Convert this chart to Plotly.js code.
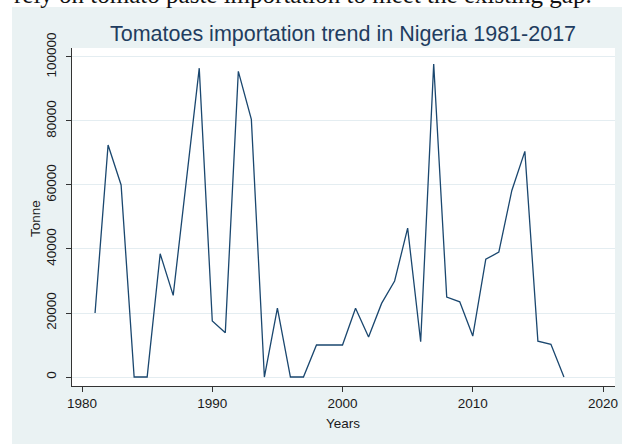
<!DOCTYPE html>
<html>
<head>
<meta charset="utf-8">
<script src="https://cdn.plot.ly/plotly-3.0.1.min.js"></script>
<style>html,body{margin:0;padding:0;background:#fff;}#chart{width:622px;height:444px;}</style>
</head>
<body>
<div id="chart"></div>
<script>
const years = [1981,1982,1983,1984,1985,1986,1987,1988,1989,1990,1991,1992,1993,1994,1995,1996,1997,1998,1999,2000,2001,2002,2003,2004,2005,2006,2007,2008,2009,2010,2011,2012,2013,2014,2015,2016,2017];
const tonnes = [20000,72500,60000,0,0,38500,25500,61000,96500,17500,13800,95500,80500,0,21500,0,0,10000,10000,10000,21500,12500,23000,30000,46500,11000,97800,25000,23500,12800,36800,39000,58300,70500,11200,10200,0];
const yTicks = [0,20000,40000,60000,80000,100000];
const yTickText = ["0","20000","40000","60000","80000","100000"];
const xTicks = [1980,1990,2000,2010,2020];
const xTickText = ["1980","1990","2000","2010","2020"];
const titleText = "Tomatoes importation trend in Nigeria 1981-2017";
const xTitle = "Years";
const yTitle = "Tonne";
const pageText = "rely on tomato paste importation to meet the existing gap.";

const font = "Liberation Sans, Arial, sans-serif";
const trace = {
  x: years, y: tonnes, type: "scatter", mode: "lines",
  line: {color: "#1A476F", width: 1.3},
  hoverinfo: "skip"
};
const layout = {
  width: 622, height: 444,
  margin: {l: 72, r: 7, t: 48, b: 58},
  paper_bgcolor: "#EAF2F3",
  plot_bgcolor: "#FFFFFF",
  showlegend: false,
  font: {family: font, color: "#222"},
  title: {text: titleText, font: {family: font, size: 21.5, color: "#1F3D60"},
          x: 343/622, xanchor: "center", xref: "container",
          y: 1 - 33/444, yanchor: "middle", yref: "container"},
  xaxis: {
    range: [1979.23, 2020.92], tickvals: xTicks, ticktext: xTickText,
    ticks: "outside", ticklen: 5, tickcolor: "#333", tickwidth: 1,
    showline: true, linecolor: "#333", linewidth: 1, mirror: false,
    showgrid: false, zeroline: false,
    tickfont: {family: font, size: 13.5, color: "#1a1a1a"},
    title: {text: ""}
  },
  yaxis: {
    range: [-2810, 102800], tickvals: yTicks, ticktext: yTickText,
    tickangle: -90, ticklabelstandoff: 5,
    ticks: "outside", ticklen: 5, tickcolor: "#333", tickwidth: 1,
    showline: true, linecolor: "#333", linewidth: 1, mirror: false,
    showgrid: true, gridcolor: "#E4EDF1", gridwidth: 1, zeroline: false,
    tickfont: {family: font, size: 13.5, color: "#1a1a1a"},
    title: {text: ""}
  },
  shapes: [
    {type: "rect", xref: "paper", yref: "paper", x0: -0.2, x1: 1.1, y0: 1 + 41/338, y1: 1.3,
     fillcolor: "#FFFFFF", line: {width: 0}, layer: "above"},
    {type: "rect", xref: "paper", yref: "paper", x0: -0.2, x1: -60/543, y0: -0.3, y1: 1.3,
     fillcolor: "#FFFFFF", line: {width: 0}, layer: "above"}
  ],
  annotations: [
    {text: xTitle, xref: "paper", yref: "paper", x: (343-72)/543, y: -(423-386)/338,
     xanchor: "center", yanchor: "middle", showarrow: false,
     font: {family: font, size: 13.5, color: "#1a1a1a"}},
    {text: yTitle, xref: "paper", yref: "paper", x: -(72-35)/543, y: (386-219)/338,
     xanchor: "center", yanchor: "middle", textangle: -90, showarrow: false,
     font: {family: font, size: 13.5, color: "#1a1a1a"}},
    {text: pageText, xref: "paper", yref: "paper", x: (594-72)/543, y: 1 + 53/338,
     xanchor: "right", yanchor: "middle", showarrow: false,
     font: {family: "Liberation Serif, Times New Roman, serif", size: 25, color: "#111"}}
  ]
};
Plotly.newPlot("chart", [trace], layout, {displayModeBar: false, staticPlot: true});
</script>
</body>
</html>
